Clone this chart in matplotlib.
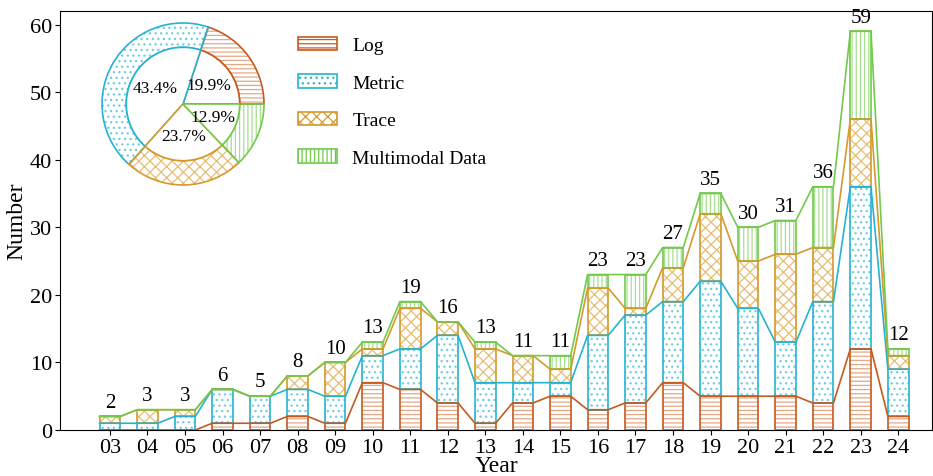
import matplotlib
matplotlib.use("Agg")
import matplotlib.pyplot as plt
from matplotlib.patches import Patch
import numpy as np

plt.rcParams["font.family"] = ["Liberation Serif", "DejaVu Serif"]
plt.rcParams["hatch.linewidth"] = 0.9

years = ["03", "04", "05", "06", "07", "08", "09", "10", "11", "12", "13",
         "14", "15", "16", "17", "18", "19", "20", "21", "22", "23", "24"]
log = [0, 0, 0, 1, 1, 2, 1, 7, 6, 4, 1, 4, 5, 3, 4, 7, 5, 5, 5, 4, 12, 2]
metric = [1, 1, 2, 5, 4, 4, 4, 4, 6, 10, 6, 3, 2, 11, 13, 12, 17, 13, 8, 15, 24, 7]
trace = [1, 2, 1, 0, 0, 2, 5, 1, 6, 2, 5, 4, 2, 7, 1, 5, 10, 7, 13, 8, 10, 2]
multimodal = [0, 0, 0, 0, 0, 0, 0, 1, 1, 0, 1, 0, 2, 2, 5, 3, 3, 5, 5, 9, 13, 1]

labels = ["Log", "Metric", "Trace", "Multimodal Data"]
series = [log, metric, trace, multimodal]
dark = ["#C55A1E", "#25B3D2", "#D49A2C", "#72C94C"]
light = ["#E3A887", "#6FCDE3", "#E6BD73", "#A8DE8F"]
hatches = ["----", "...", "xxx", "||||"]

fig = plt.figure(figsize=(9.33, 4.77), dpi=100)
ax = fig.add_axes([60 / 933, 46 / 477, 872 / 933, 419 / 477])

x = np.arange(len(years))
w = 0.55
bottom = np.zeros(len(years))
for vals, c, lc, h in zip(series, dark, light, hatches):
    vals = np.array(vals)
    ax.bar(x, vals, w, bottom=bottom, color="white", edgecolor=lc,
           hatch=h, linewidth=0)
    ax.bar(x, vals, w, bottom=bottom, fill=False, edgecolor=c, linewidth=1.2)
    top = bottom + vals
    # connect bar tops of this layer
    lx = np.column_stack([x - w / 2, x + w / 2]).ravel()
    ly = np.repeat(top, 2)
    ax.plot(lx, ly, color=c, lw=1.2)
    bottom = top

for xi, t in zip(x, bottom):
    ax.text(xi, t + 0.7, str(int(t)), ha="center", va="bottom", fontsize=15)

ax.set_xlim(-1.33, 21.9)
ax.set_ylim(0, 62)
ax.set_xticks(x)
ax.set_xticklabels(years, fontsize=16)
ax.set_yticks(range(0, 61, 10))
ax.tick_params(axis="y", labelsize=16, pad=2)
ax.tick_params(axis="x", pad=2)
ax.set_xlabel("Year", fontsize=17, labelpad=-1)
ax.set_ylabel("Number", fontsize=17, labelpad=2)

handles = [Patch(facecolor="white", edgecolor=c, hatch=h, linewidth=1.2)
           for c, h in zip(dark, hatches)]
ax.legend(handles, labels, loc="upper left", bbox_to_anchor=(0.264, 0.957),
          frameon=False, fontsize=14, handlelength=2.0, handleheight=0.7,
          labelspacing=1.02, handletextpad=0.8, borderaxespad=0)

# pie inset
totals = [sum(s) for s in series]
pax = fig.add_axes([(183 - 85) / 933, 1 - (105 + 85) / 477, 170 / 933, 170 / 477])
r = 81 / 85
wedges, _ = pax.pie(totals, radius=r, startangle=0, counterclock=True,
                    wedgeprops=dict(width=0.3 * r, linewidth=0))
for wd, lc, h in zip(wedges, light, hatches):
    wd.set_facecolor("white")
    wd.set_edgecolor(lc)
    wd.set_hatch(h)
wedges2, _ = pax.pie(totals, radius=r, startangle=0, counterclock=True,
                     wedgeprops=dict(width=0.3 * r, fill=False, linewidth=1.2))
for wd, c in zip(wedges2, dark):
    wd.set_edgecolor(c)
inner, _, autot = pax.pie(totals, radius=0.7 * r, startangle=0, counterclock=True,
                          autopct="%.1f%%", pctdistance=0.57,
                          wedgeprops=dict(facecolor="white", linewidth=1.2))
for wd, c in zip(inner, dark):
    wd.set_edgecolor(c)
for t in autot:
    t.set_fontsize(12.5)
pax.set_xlim(-1, 1)
pax.set_ylim(-1, 1)

fig.savefig("out.png", dpi=100)
